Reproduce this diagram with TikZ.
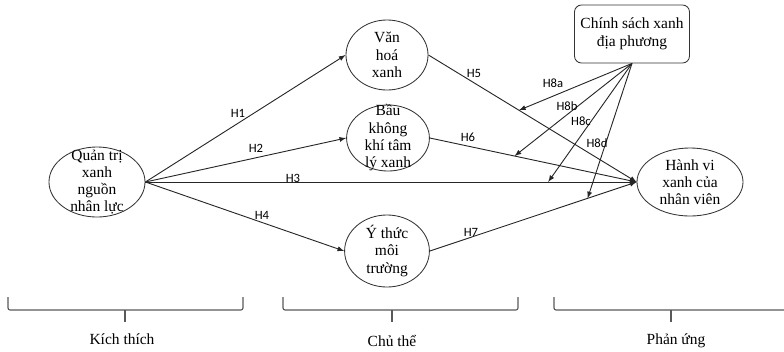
\documentclass[tikz,border=0pt]{standalone}
\usepackage{fontspec}
\setmainfont{Liberation Serif}
\newfontfamily\hfont{Carlito}
\usetikzlibrary{calc,shapes.geometric}

\tikzset{
  ell/.style={draw=black!80, line width=0.6pt, ellipse, inner sep=0pt},
  box/.style={draw=black!80, line width=0.6pt, rounded corners=5pt, inner sep=0pt,
    align=center, font=\fontsize{11}{13}\selectfont},
  txt/.style={align=center, font=\fontsize{11}{12.3}\selectfont, inner sep=0pt},
  hyp/.style={font=\hfont\fontsize{9}{10}\selectfont, inner sep=1pt},
  arr/.style={-{latex}, line width=0.65pt, draw=black!85},
  brk/.style={line width=0.8pt, draw=black!65, rounded corners=1.5pt}
}

\begin{document}
\begin{tikzpicture}[x=0.025cm, y=-0.025cm]
			%%%%% START %%%%%
			\useasboundingbox (0,0) rectangle (784,351);
			
			\node[ell, minimum width=2.4cm, minimum height=1.75cm,
			  label={[txt]center:Quản trị\\xanh\\nguồn\\nhân lực}] (qt) at (97,182) {};
			\node[ell, minimum width=2.05cm, minimum height=1.75cm,
			  label={[txt]center:Văn\\hoá\\xanh}] (vh) at (387,55) {};
			\node[ell, minimum width=2.07cm, minimum height=1.65cm,
			  label={[txt]center:Bầu\\không\\khí tâm\\lý xanh}] (bk) at (388,138) {};
			\node[ell, minimum width=2.12cm, minimum height=1.8cm,
			  label={[txt]center:Ý thức\\môi\\trường}] (yt) at (387,251) {};
			\node[ell, minimum width=2.65cm, minimum height=1.7cm,
			  label={[txt]center:Hành vi\\xanh của\\nhân viên}] (hv) at (690,182) {};
			\node[box, minimum width=2.875cm, minimum height=1.45cm] (cs) at (632,34)
			  {Chính sách xanh\\địa phương};
			
			\draw[arr] (qt.east) -- (vh.west);
			\draw[arr] (qt.east) -- (bk.west);
			\draw[arr] (qt.east) -- (hv.west);
			\draw[arr] (qt.east) -- (yt.west);
			\draw[arr] (vh.east) -- (hv.west);
			\draw[arr] (bk.east) -- (hv.west);
			\draw[arr] (yt.east) -- (hv.west);
			
			\coordinate (p8a) at ($(vh.east)!0.435!(hv.west)$);
			\coordinate (p8b) at ($(bk.east)!0.41!(hv.west)$);
			\coordinate (p8c) at ($(qt.east)!0.82!(hv.west)$);
			\coordinate (p8d) at ($(yt.east)!0.763!(hv.west)$);
			\draw[arr] (cs.south) -- (p8a);
			\draw[arr] (cs.south) -- (p8b);
			\draw[arr] (cs.south) -- (p8c);
			\draw[arr] (cs.south) -- (p8d);
			
			\node[hyp] (h1) at (238,113) {H1};
			\node[hyp] (h2) at (256,148) {H2};
			\node[hyp] (h3) at (293,178) {H3};
			\node[hyp] (h4) at (262,215) {H4};
			\node[hyp] (h5) at (474,73) {H5};
			\node[hyp] (h6) at (468,137) {H6};
			\node[hyp] (h7) at (471,232) {H7};
			\node[hyp] (h8a) at (553,83) {H8a};
			\node[hyp] (h8b) at (567,106) {H8b};
			\node[hyp] (h8c) at (581,121) {H8c};
			\node[hyp] (h8d) at (597,143) {H8d};
			
			\draw[brk] (8,297) -- (8,310) -- (243,310) -- (243,297);
			\draw[brk] (125,310) -- (125,322);
			\draw[brk] (283,297) -- (283,310) -- (518,310) -- (518,297);
			\draw[brk] (392,310) -- (392,322);
			\draw[brk] (554,297) -- (554,310) -- (790,310);
			\draw[brk] (671,310) -- (671,322);
			
			\node[txt] (kt) at (122,339) {Kích thích};
			\node[txt] (ct) at (392,341) {Chủ thể};
			\node[txt] (pu) at (676,341) {Phản ứng};
			
			%%%%% END %%%%%
\end{tikzpicture}
\end{document}
